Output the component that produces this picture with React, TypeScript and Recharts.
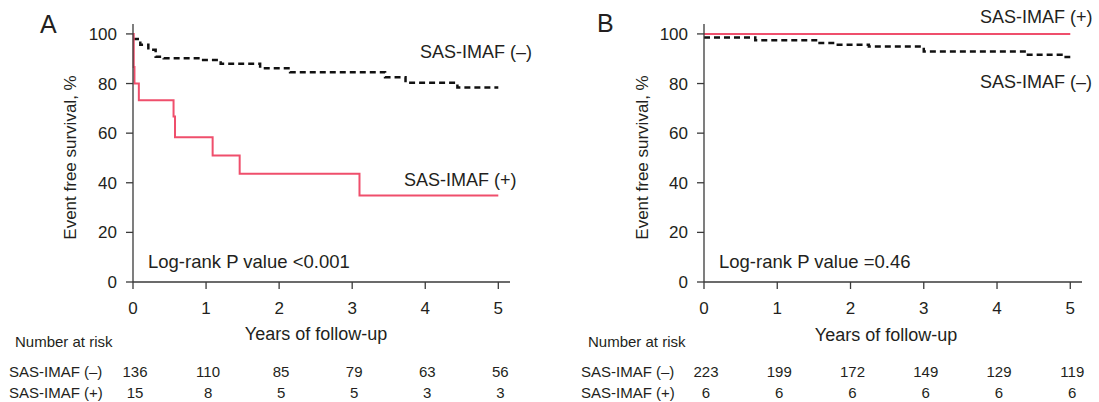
import React from "react"
import { LineChart, Line, XAxis, YAxis } from "recharts"

// follow-up years shown on the axis / risk table
const years = [0, 1, 2, 3, 4, 5]
const yTicks = [0, 20, 40, 60, 80, 100]

// panel A, Kaplan-Meier estimates
const timeNegA = [0, 0.1, 0.21, 0.31, 0.42, 0.96, 1.2, 1.74, 2.15, 3.45, 3.73, 4.44, 5.0]
const survNegA = [98, 95.6, 93.6, 90.8, 90.2, 89.5, 88, 86.2, 84.6, 82.5, 80.3, 78.4, 78.4]
const timePosA = [0, 0.01, 0.02, 0.08, 0.555, 0.575, 1.09, 1.46, 3.1, 5.0]
const survPosA = [100, 86.7, 80, 73.3, 66.7, 58.3, 51, 43.6, 34.9, 34.9]

// panel B
const timeNegB = [0, 0.7, 1.55, 1.8, 2.25, 3.0, 4.4, 4.88, 5.0]
const survNegB = [98.6, 97.5, 96.3, 95.6, 94.9, 92.9, 91.6, 90.7, 90.7]
const timePosB = [0, 5.0]
const survPosB = [100, 100]

// number at risk
const riskNegA = [136, 110, 85, 79, 63, 56]
const riskPosA = [15, 8, 5, 5, 3, 3]
const riskNegB = [223, 199, 172, 149, 129, 119]
const riskPosB = [6, 6, 6, 6, 6, 6]

const FONT = "'Liberation Sans', Arial, Helvetica, sans-serif"
const INK = "#231f20"
const RED = "#ef4f6c"
const AXIS = "#3a3a3a"

const toPoints = (ts: number[], ss: number[]) => ts.map((t, i) => ({ t, s: ss[i] }))

function RiskTick(props: any) {
  const { x, payload, neg, pos } = props
  const i = years.indexOf(payload.value)
  return (
    <g fontFamily={FONT} fill={INK}>
      <text x={x} y={313.5} textAnchor="middle" fontSize={17}>{payload.value}</text>
      <text x={x + 2} y={376.5} textAnchor="middle" fontSize={15}>{neg[i]}</text>
      <text x={x + 2} y={398} textAnchor="middle" fontSize={15}>{pos[i]}</text>
    </g>
  )
}

function Panel(props: {
  left: number
  width: number
  axisW: number
  right: number
  neg: { t: number; s: number }[]
  pos: { t: number; s: number }[]
  riskNeg: number[]
  riskPos: number[]
}) {
  const { left, width, axisW, right, neg, pos, riskNeg, riskPos } = props
  return (
    <div style={{ position: "absolute", left, top: 0 }}>
      <LineChart width={width} height={402} margin={{ top: 24, right, bottom: 0, left: 0 }}>
        <XAxis
          dataKey="t"
          type="number"
          domain={[0, 5.16]}
          ticks={years}
          interval={0}
          height={120}
          tickSize={7}
          stroke={AXIS}
          strokeWidth={1.3}
          tick={(p: any) => <RiskTick {...p} neg={riskNeg} pos={riskPos} />}
        />
        <YAxis
          type="number"
          domain={[0, 104]}
          ticks={yTicks}
          interval={0}
          width={axisW}
          tickSize={7}
          tickMargin={9}
          stroke={AXIS}
          strokeWidth={1.3}
          tick={{ fill: INK, fontSize: 17, fontFamily: FONT }}
        />
        <Line
          data={neg}
          dataKey="s"
          type="stepAfter"
          stroke="#111"
          strokeWidth={2.5}
          strokeDasharray="6 4"
          dot={false}
          isAnimationActive={false}
        />
        <Line
          data={pos}
          dataKey="s"
          type="stepAfter"
          stroke={RED}
          strokeWidth={2}
          dot={false}
          isAnimationActive={false}
        />
      </LineChart>
    </div>
  )
}

export default function App() {
  return (
    <div style={{ position: "absolute", left: 0, top: 0, width: 1099, height: 402, background: "#fff" }}>
      <Panel
        left={0}
        width={560}
        axisW={133}
        right={50}
        neg={toPoints(timeNegA, survNegA)}
        pos={toPoints(timePosA, survPosA)}
        riskNeg={riskNegA}
        riskPos={riskPosA}
      />
      <Panel
        left={560}
        width={539}
        axisW={144}
        right={17}
        neg={toPoints(timeNegB, survNegB)}
        pos={toPoints(timePosB, survPosB)}
        riskNeg={riskNegB}
        riskPos={riskPosB}
      />
      <svg
        width={1099}
        height={402}
        style={{ position: "absolute", left: 0, top: 0, pointerEvents: "none" }}
        fontFamily={FONT}
        fill={INK}
      >
        <text x={40} y={33} fontSize={25}>A</text>
        <text x={597} y={32} fontSize={25}>B</text>

        <text x={420} y={58} fontSize={18}>SAS-IMAF (–)</text>
        <text x={404} y={185.5} fontSize={18}>SAS-IMAF (+)</text>
        <text x={148} y={268.3} fontSize={18.5}>Log-rank P value &lt;0.001</text>

        <text x={980} y={23.3} fontSize={18}>SAS-IMAF (+)</text>
        <text x={980} y={88.3} fontSize={18}>SAS-IMAF (–)</text>
        <text x={719} y={268.3} fontSize={18.5}>Log-rank P value =0.46</text>

        <text x={76} y={157.5} fontSize={17} textAnchor="middle" transform="rotate(-90 76 157.5)">
          Event free survival, %
        </text>
        <text x={648} y={157.5} fontSize={17} textAnchor="middle" transform="rotate(-90 648 157.5)">
          Event free survival, %
        </text>
        <text x={316} y={339.5} fontSize={18} textAnchor="middle">Years of follow-up</text>
        <text x={886} y={341} fontSize={18} textAnchor="middle">Years of follow-up</text>

        <text x={15} y={346.7} fontSize={15}>Number at risk</text>
        <text x={9} y={376.5} fontSize={15}>SAS-IMAF (–)</text>
        <text x={9} y={398} fontSize={15}>SAS-IMAF (+)</text>
        <text x={588} y={346.7} fontSize={15}>Number at risk</text>
        <text x={581} y={376.5} fontSize={15}>SAS-IMAF (–)</text>
        <text x={581} y={398} fontSize={15}>SAS-IMAF (+)</text>
      </svg>
    </div>
  )
}
